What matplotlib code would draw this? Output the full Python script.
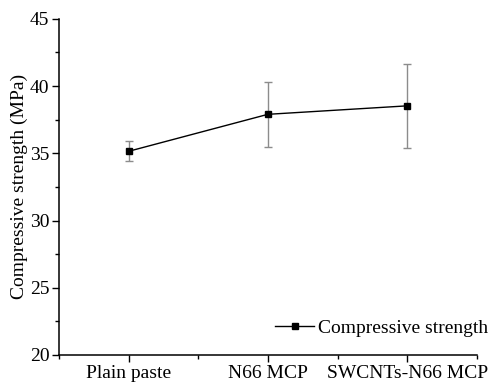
import matplotlib.pyplot as plt
from matplotlib.ticker import MultipleLocator

plt.rcParams['font.family'] = ['Liberation Serif', 'DejaVu Serif']

# Data
samples = ['Plain paste', 'N66 MCP', 'SWCNTs-N66 MCP']
strength = [35.15, 37.9, 38.53]
strength_err = [0.73, 2.4, 3.12]

fig = plt.figure(figsize=(4.88, 3.85), dpi=100)
ax = fig.add_axes([0.121, 0.078, 0.856, 0.873])

x = list(range(1, len(samples) + 1))
ax.errorbar(x, strength, yerr=strength_err, fmt='none', ecolor='#8c8c8c',
            elinewidth=1.0, capsize=3, capthick=1.0, zorder=2)
ax.plot(x, strength, color='black', linewidth=1.0, marker='s', markersize=5,
        label='Compressive strength', zorder=3)

ax.set_xlim(0.5, 3.5)
ax.set_ylim(20, 45)
ax.set_xticks(x)
ax.set_xticklabels(samples)
ax.xaxis.set_minor_locator(MultipleLocator(0.5))
ax.yaxis.set_major_locator(MultipleLocator(5))
ax.yaxis.set_minor_locator(MultipleLocator(2.5))
ax.tick_params(axis='both', which='major', direction='out', length=5, width=1,
               labelsize=14, pad=2)
ax.tick_params(axis='both', which='minor', direction='out', length=3, width=1)
ax.set_ylabel('Compressive strength (MPa)', fontsize=14, labelpad=1)

for side in ['top', 'right']:
    ax.spines[side].set_visible(False)
for side in ['left', 'bottom']:
    ax.spines[side].set_linewidth(1.1)

ax.legend(loc='center right', bbox_to_anchor=(1.027, 0.08), frameon=False,
          fontsize=14, handlelength=2.0, handletextpad=0.2, borderaxespad=0,
          borderpad=0)

plt.savefig('out.png', dpi=100)
plt.close()
